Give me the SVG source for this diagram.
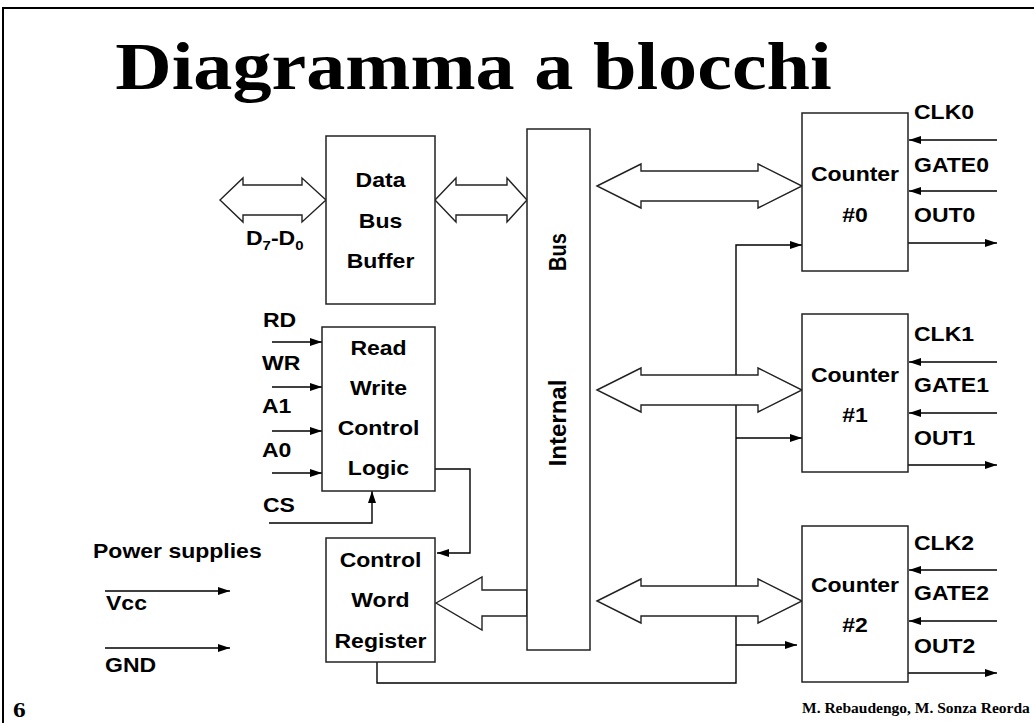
<svg xmlns="http://www.w3.org/2000/svg" width="1034" height="723" viewBox="0 0 1034 723">
  <style>
    .box { fill: #fff; stroke: #222; stroke-width: 1.5; }
    .wire { fill: none; stroke: #000; stroke-width: 1.4; }
    .bus { fill: #fff; stroke: #222; stroke-width: 1.4; stroke-linejoin: miter; }
    .lbl { font-family: "Liberation Sans", Arial, sans-serif; font-weight: bold; font-size: 20px; fill: #000; }
    .mid { text-anchor: middle; }
    .sub { font-size: 13px; }
    .serif { font-family: "Liberation Serif", "Times New Roman", serif; font-weight: bold; fill: #000; }
  </style>
  <defs>
    <marker id="arr" viewBox="0 0 12 8" refX="12" refY="4" markerWidth="12" markerHeight="8" markerUnits="userSpaceOnUse" orient="auto">
      <path d="M0,0 L12,4 L0,8 z" fill="#000"/>
    </marker>
  </defs>

  <rect width="1034" height="723" fill="#fff"/>

  <!-- slide frame -->
  <path d="M3,723 V8 H1034" fill="none" stroke="#000" stroke-width="2"/>

  <!-- title -->
  <text class="serif mid" font-size="68" transform="translate(473.5 89) scale(1.15 1)">Diagramma a blocchi</text>

  <!-- wires -->
  <g id="connectors">
    <!-- control inputs to read/write logic -->
    <path class="wire" d="M272,342 H322" marker-end="url(#arr)"/>
    <path class="wire" d="M272,387 H322" marker-end="url(#arr)"/>
    <path class="wire" d="M272,431 H322" marker-end="url(#arr)"/>
    <path class="wire" d="M272,473 H322" marker-end="url(#arr)"/>
    <path class="wire" d="M269,523 H372 V491" marker-end="url(#arr)"/>
    <!-- read/write logic to control word register -->
    <path class="wire" d="M435,469 H470 V553 H437" marker-end="url(#arr)"/>
    <!-- power supplies -->
    <path class="wire" d="M105,591 H230" marker-end="url(#arr)"/>
    <path class="wire" d="M105,648 H230" marker-end="url(#arr)"/>
    <!-- control word register to counters -->
    <path class="wire" d="M377,662 V683 H736 V245 H802" marker-end="url(#arr)"/>
    <path class="wire" d="M736,438 H802" marker-end="url(#arr)"/>
    <path class="wire" d="M736,645 H797" marker-end="url(#arr)"/>
    <!-- counter 0 pins -->
    <path class="wire" d="M997,140 H909" marker-end="url(#arr)"/>
    <path class="wire" d="M997,191 H909" marker-end="url(#arr)"/>
    <path class="wire" d="M908,243 H997" marker-end="url(#arr)"/>
    <!-- counter 1 pins -->
    <path class="wire" d="M997,362 H909" marker-end="url(#arr)"/>
    <path class="wire" d="M997,413 H909" marker-end="url(#arr)"/>
    <path class="wire" d="M908,465 H997" marker-end="url(#arr)"/>
    <!-- counter 2 pins -->
    <path class="wire" d="M997,570 H909" marker-end="url(#arr)"/>
    <path class="wire" d="M997,621 H909" marker-end="url(#arr)"/>
    <path class="wire" d="M908,673 H997" marker-end="url(#arr)"/>

    <!-- wide bus arrows -->
    <polygon class="bus" points="220,200 243,178 243,185 302,185 302,178 326,200 302,222 302,215 243,215 243,222"/>
    <polygon class="bus" points="435,200 456,178 456,185 507,185 507,178 527,200 507,222 507,215 456,215 456,222"/>
    <polygon class="bus" points="597,186 641,164 641,171 758,171 758,164 802,186 758,208 758,201 641,201 641,208"/>
    <polygon class="bus" points="597,390 641,368 641,375 758,375 758,368 802,390 758,412 758,405 641,405 641,412"/>
    <polygon class="bus" points="597,601 641,579 641,586 758,586 758,579 802,601 758,623 758,616 641,616 641,623"/>
    <polygon class="bus" points="436,603 482,577 482,590 527,590 527,616 482,616 482,630"/>
  </g>

  <!-- data bus buffer -->
  <g id="data-bus-buffer">
    <rect class="box" x="326" y="136" width="109" height="168"/>
    <text class="lbl mid" transform="translate(380.5 187) scale(1.15 1)">Data</text>
    <text class="lbl mid" transform="translate(380.5 228) scale(1.15 1)">Bus</text>
    <text class="lbl mid" transform="translate(380.5 268) scale(1.15 1)">Buffer</text>
    <text class="lbl" transform="translate(246 245) scale(1.15 1)">D<tspan class="sub" dy="5">7</tspan><tspan dy="-5">-D</tspan><tspan class="sub" dy="5">0</tspan></text>
  </g>

  <!-- read / write control logic -->
  <g id="rw-control-logic">
    <rect class="box" x="322" y="327" width="113" height="164"/>
    <text class="lbl mid" transform="translate(378.5 355) scale(1.15 1)">Read</text>
    <text class="lbl mid" transform="translate(378.5 395) scale(1.15 1)">Write</text>
    <text class="lbl mid" transform="translate(378.5 435) scale(1.15 1)">Control</text>
    <text class="lbl mid" transform="translate(378.5 475) scale(1.15 1)">Logic</text>
    <text class="lbl" transform="translate(263 327) scale(1.15 1)">RD</text>
    <text class="lbl" transform="translate(262 370) scale(1.15 1)">WR</text>
    <text class="lbl" transform="translate(262 413) scale(1.15 1)">A1</text>
    <text class="lbl" transform="translate(262 457) scale(1.15 1)">A0</text>
    <text class="lbl" transform="translate(263 512) scale(1.15 1)">CS</text>
  </g>

  <!-- control word register -->
  <g id="control-word-register">
    <rect class="box" x="326" y="538" width="109" height="124"/>
    <text class="lbl mid" transform="translate(380.5 567) scale(1.15 1)">Control</text>
    <text class="lbl mid" transform="translate(380.5 607) scale(1.15 1)">Word</text>
    <text class="lbl mid" transform="translate(380.5 648) scale(1.15 1)">Register</text>
  </g>

  <!-- power supplies -->
  <g id="power-supplies">
    <text class="lbl" font-size="21.5" transform="translate(93 558) scale(1.15 1)">Power supplies</text>
    <text class="lbl" transform="translate(106 610) scale(1.15 1)">Vcc</text>
    <text class="lbl" transform="translate(105 672) scale(1.15 1)">GND</text>
  </g>

  <!-- internal bus -->
  <g id="internal-bus">
    <rect class="box" x="527" y="129" width="63" height="521"/>
    <text class="lbl mid" font-size="21" transform="translate(566 252) rotate(-90) scale(1 1.15)">Bus</text>
    <text class="lbl mid" font-size="21" transform="translate(566 423) rotate(-90) scale(1.2 1.15)">Internal</text>
  </g>

  <!-- counter 0 -->
  <g id="counter-0">
    <rect class="box" x="802" y="113" width="106" height="158"/>
    <text class="lbl mid" transform="translate(855 181) scale(1.15 1)">Counter</text>
    <text class="lbl mid" transform="translate(855 222) scale(1.15 1)">#0</text>
    <text class="lbl" transform="translate(914 119) scale(1.15 1)">CLK0</text>
    <text class="lbl" transform="translate(914 172) scale(1.15 1)">GATE0</text>
    <text class="lbl" transform="translate(914 222) scale(1.15 1)">OUT0</text>
  </g>

  <!-- counter 1 -->
  <g id="counter-1">
    <rect class="box" x="802" y="314" width="106" height="158"/>
    <text class="lbl mid" transform="translate(855 382) scale(1.15 1)">Counter</text>
    <text class="lbl mid" transform="translate(855 422) scale(1.15 1)">#1</text>
    <text class="lbl" transform="translate(914 341) scale(1.15 1)">CLK1</text>
    <text class="lbl" transform="translate(914 392) scale(1.15 1)">GATE1</text>
    <text class="lbl" transform="translate(914 445) scale(1.15 1)">OUT1</text>
  </g>

  <!-- counter 2 -->
  <g id="counter-2">
    <rect class="box" x="802" y="526" width="106" height="156"/>
    <text class="lbl mid" transform="translate(855 592) scale(1.15 1)">Counter</text>
    <text class="lbl mid" transform="translate(855 632) scale(1.15 1)">#2</text>
    <text class="lbl" transform="translate(914 550) scale(1.15 1)">CLK2</text>
    <text class="lbl" transform="translate(914 600) scale(1.15 1)">GATE2</text>
    <text class="lbl" transform="translate(914 653) scale(1.15 1)">OUT2</text>
  </g>

  <!-- footer -->
  <text class="serif" font-size="22" transform="translate(13 717) scale(1.15 1)">6</text>
  <text class="serif" font-size="15.5" x="802" y="713">M. Rebaudengo, M. Sonza Reorda</text>
</svg>
